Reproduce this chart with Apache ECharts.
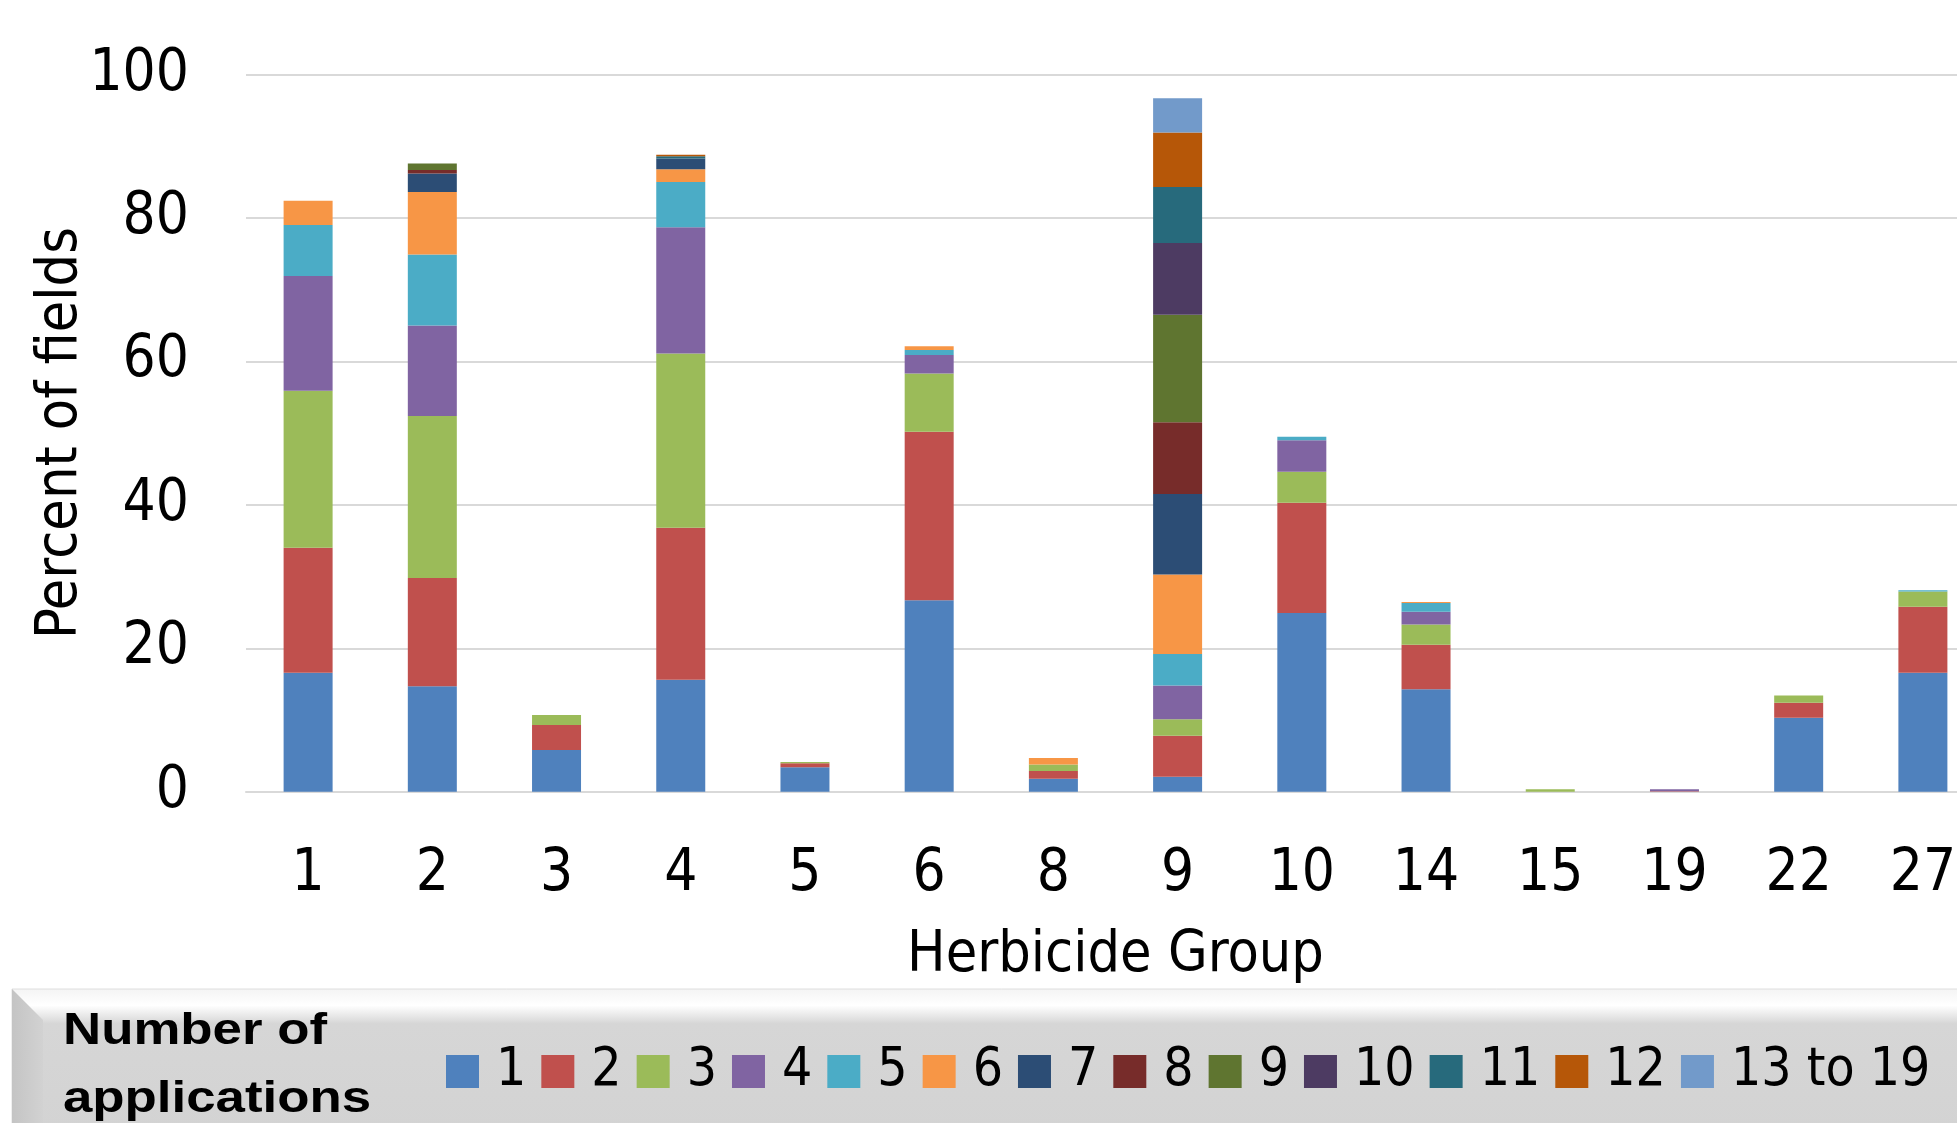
<!DOCTYPE html>
<html>
<head>
<meta charset="utf-8">
<style>
  html, body { margin: 0; padding: 0; background: #fff; overflow: hidden; }
  /* the plot runs a little past the right edge of the window, as in the original */
  #chart { width: 1990px; height: 1123px; }
</style>
<script src="https://cdn.jsdelivr.net/npm/echarts@6/dist/echarts.min.js"></script>
</head>
<body>
<div id="chart"></div>
<script>
// herbicide groups on the x axis
const groups = ['1', '2', '3', '4', '5', '6', '8', '9', '10', '14', '15', '19', '22', '27']

// percent of fields, by number of applications
const app1 = [16.6, 14.7, 5.8, 15.6, 3.4, 26.7, 1.8, 2.1, 24.9, 14.3, 0, 0, 10.3, 16.6]
const app2 = [17.4, 15.1, 3.5, 21.2, 0.55, 23.5, 1.1, 5.7, 15.4, 6.2, 0, 0.05, 2.1, 9.2]
const app3 = [21.9, 22.6, 1.4, 24.3, 0.2, 8.1, 0.9, 2.3, 4.3, 2.8, 0.35, 0, 1.0, 2.1]
const app4 = [16.0, 12.6, 0, 17.6, 0, 2.6, 0, 4.7, 4.4, 1.8, 0, 0.3, 0, 0]
const app5 = [7.1, 9.9, 0, 6.3, 0, 0.7, 0, 4.4, 0.5, 1.2, 0, 0, 0, 0.2]
const app6 = [3.4, 8.7, 0, 1.8, 0, 0.5, 0.9, 11.1, 0, 0.15, 0, 0, 0, 0]
const app7 = [0, 2.6, 0, 1.5, 0, 0, 0, 11.2, 0, 0, 0, 0, 0, 0]
const app8 = [0, 0.5, 0, 0, 0, 0, 0, 10.0, 0, 0, 0, 0, 0, 0]
const app9 = [0, 0.9, 0, 0, 0, 0, 0, 15.0, 0, 0, 0, 0, 0, 0]
const app10 = [0, 0, 0, 0, 0, 0, 0, 10.0, 0, 0, 0, 0, 0, 0]
const app11 = [0, 0, 0, 0.3, 0, 0, 0, 7.8, 0, 0, 0, 0, 0, 0]
const app12 = [0, 0, 0, 0.2, 0, 0, 0, 7.6, 0, 0, 0, 0, 0, 0]
const app13to19 = [0, 0, 0, 0, 0, 0, 0, 4.8, 0, 0, 0, 0, 0, 0]

const seriesNames = ['1', '2', '3', '4', '5', '6', '7', '8', '9', '10', '11', '12', '13 to 19']
const seriesData = [app1, app2, app3, app4, app5, app6, app7, app8, app9, app10, app11, app12, app13to19]
const colors = ['#4f81bd', '#c0504d', '#9bbb59', '#8064a2', '#4bacc6', '#f79646', '#2c4d75',
  '#772c2a', '#5f7530', '#4d3b62', '#276a7c', '#b65708', '#729aca']

const narrow = '"Liberation Sans Narrow", "DejaVu Sans Condensed", sans-serif'

const chart = echarts.init(document.getElementById('chart'))

chart.setOption({
  animation: false,
  backgroundColor: '#fff',
  color: colors,
  grid: {
    top: 74.5,
    left: 246,
    right: 5,
    height: 717.2
  },
  graphic: [
    // legend panel
    {
      type: 'rect',
      z: 0,
      shape: { x: 12, y: 989, width: 1990, height: 140 },
      style: {
        fill: new echarts.graphic.LinearGradient(0, 0, 0, 1, [
          { offset: 0, color: '#f4f4f4' },
          { offset: 0.12, color: '#ffffff' },
          { offset: 0.25, color: '#d6d6d6' },
          { offset: 1, color: '#d3d3d3' }
        ]),
        stroke: '#dedede',
        lineWidth: 1
      }
    },
    {
      type: 'polygon',
      z: 1,
      shape: { points: [[12, 989], [43, 1020], [43, 1123], [12, 1123]] },
      style: {
        fill: new echarts.graphic.LinearGradient(0, 0, 1, 0, [
          { offset: 0, color: '#c4c4c4' },
          { offset: 1, color: '#d2d2d2' }
        ])
      }
    },
    {
      type: 'text',
      z: 2,
      x: 63,
      y: 1032,
      scaleX: 1.2,
      style: {
        text: 'Number of',
        font: 'bold 44px "Liberation Sans", Arial, sans-serif',
        fill: '#000',
        verticalAlign: 'middle'
      }
    },
    {
      type: 'text',
      z: 2,
      x: 63,
      y: 1100,
      scaleX: 1.2,
      style: {
        text: 'applications',
        font: 'bold 44px "Liberation Sans", Arial, sans-serif',
        fill: '#000',
        verticalAlign: 'middle'
      }
    }
  ],
  legend: {
    left: 446,
    top: 1045,
    padding: 0,
    itemWidth: 33,
    itemHeight: 33,
    itemGap: 15,
    icon: 'rect',
    data: seriesNames,
    textStyle: {
      fontFamily: narrow,
      fontSize: 53,
      color: '#000',
      padding: [0, 0, 0, 12]
    }
  },
  xAxis: {
    type: 'category',
    data: groups,
    name: 'Herbicide Group',
    nameLocation: 'middle',
    nameGap: 136,
    nameMoveOverlap: false,
    nameTextStyle: {
      fontFamily: narrow,
      fontSize: 57,
      color: '#000'
    },
    axisTick: { show: false },
    axisLine: {
      lineStyle: { color: '#d9d9d9', width: 2 }
    },
    axisLabel: {
      fontFamily: narrow,
      fontSize: 58,
      color: '#000',
      margin: 54,
      interval: 0
    }
  },
  yAxis: {
    type: 'value',
    min: 0,
    max: 100,
    interval: 20,
    name: 'Percent of fields',
    nameLocation: 'middle',
    nameGap: 156,
    nameMoveOverlap: false,
    nameTextStyle: {
      fontFamily: narrow,
      fontSize: 57,
      color: '#000'
    },
    axisLabel: {
      fontFamily: narrow,
      fontSize: 58,
      color: '#000',
      margin: 57
    },
    axisLine: { show: false },
    axisTick: { show: false },
    splitLine: {
      lineStyle: { color: '#d9d9d9', width: 2 }
    }
  },
  series: seriesData.map((vals, i) => ({
    name: seriesNames[i],
    type: 'bar',
    stack: 'apps',
    barWidth: 49,
    data: vals
  }))
})
</script>
</body>
</html>
